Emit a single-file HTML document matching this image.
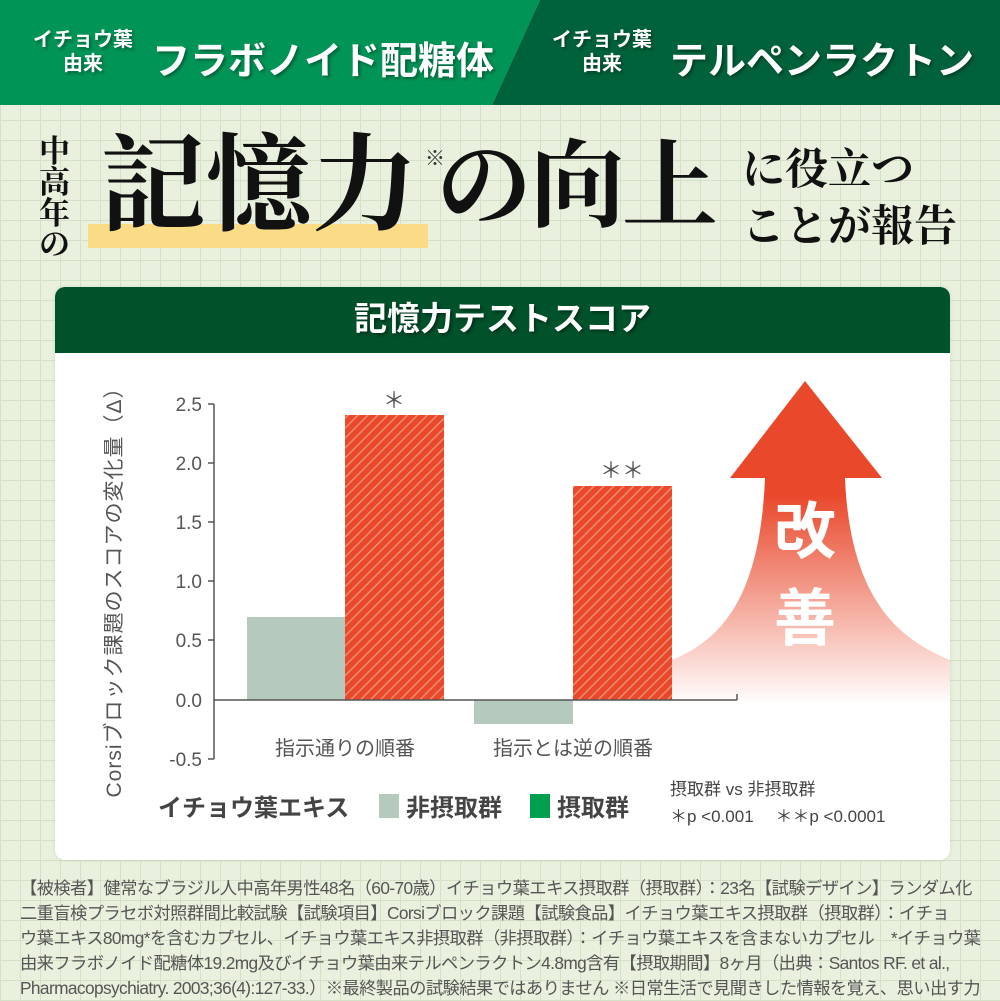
<!DOCTYPE html>
<html><head><meta charset="utf-8"><style>
*{margin:0;padding:0;box-sizing:border-box}
body{width:1000px;height:1000px;overflow:hidden;position:relative;font-family:"Liberation Sans","Noto Sans CJK JP",sans-serif;
background-color:#e9f1de;background-image:linear-gradient(#d3e2c6 1px,transparent 1px),linear-gradient(90deg,#d3e2c6 1px,transparent 1px);background-size:20px 20px;}
.abs{position:absolute;white-space:nowrap}
.ban{color:#fff;font-weight:bold;text-shadow:2px 2px 3px rgba(0,0,0,.35)}
.serif{font-family:"Liberation Serif","Noto Serif CJK SC",serif;font-weight:bold;color:#111}
.foot{font-size:17.3px;color:#555;letter-spacing:-0.6px;line-height:25px}
</style></head><body>
<svg class="abs" style="left:0;top:0" width="1000" height="105"><polygon points="0,0 540,0 492,105 0,105" fill="#009556"/><polygon points="540,0 1000,0 1000,105 492,105" fill="#00623a"/></svg>
<div class="abs ban" style="left:33px;top:28px;font-size:20px;line-height:24px;text-align:center">イチョウ葉<br>由来</div>
<div class="abs ban" style="left:152px;top:30px;font-size:38px">フラボノイド配糖体</div>
<div class="abs ban" style="left:552px;top:28px;font-size:20px;line-height:24px;text-align:center">イチョウ葉<br>由来</div>
<div class="abs ban" style="left:670px;top:30px;font-size:38px">テルペンラクトン</div>

<div class="abs serif" style="left:39px;top:136px;font-size:31px;line-height:31px;width:32px;white-space:normal">中高年の</div>
<div class="abs" style="left:88px;top:224px;width:340px;height:24px;background:#f9dc85"></div>
<div class="abs serif" style="left:100px;top:122px;font-size:106px;line-height:130px;letter-spacing:0px">記憶力</div>
<div class="abs" style="left:425px;top:142px;font-size:20px;color:#333">※</div>
<div class="abs serif" style="left:436px;top:122px;font-size:96px;line-height:130px;letter-spacing:-3px">の向上</div>
<div class="abs serif" style="left:742px;top:142px;font-size:43px;line-height:57px">に役立つ<br>ことが報告</div>

<div class="abs" style="left:55px;top:287px;width:895px;height:573px;background:#fff;border-radius:10px;overflow:hidden;box-shadow:0 0 4px rgba(0,0,0,.1)">
<div style="height:66px;background:#00522b;color:#fff;font-weight:bold;font-size:33px;text-align:center;line-height:64px;text-shadow:2px 2px 3px rgba(0,0,0,.4)">記憶力テストスコア</div>
</div>
<svg class="abs" style="left:0;top:0" width="1000" height="1000">
<defs>
<pattern id="h" width="7" height="7" patternUnits="userSpaceOnUse" patternTransform="rotate(45)"><rect width="7" height="7" fill="#e9482b"/><rect width="1.5" height="7" fill="#f08a70"/></pattern>
<linearGradient id="g" x1="0" y1="0" x2="0" y2="1"><stop offset="0.35" stop-color="#e9482b"/><stop offset="1" stop-color="#e9482b" stop-opacity="0"/></linearGradient>
</defs>
<path d="M805,381 L882,478 L845,478 C850,600 900,640 950,660 L950,705 L672,705 L672,660 C720,640 760,600 765,478 L730,478 Z" fill="url(#g)"/>
<text x="805" y="553" font-size="62" font-weight="bold" fill="#fff" text-anchor="middle" font-family="Liberation Sans,Noto Sans CJK JP,sans-serif">改</text>
<text x="805" y="640" font-size="62" font-weight="bold" fill="#fff" text-anchor="middle" font-family="Liberation Sans,Noto Sans CJK JP,sans-serif">善</text>
<rect x="247" y="617" width="98" height="83" fill="#b6c9bd"/>
<rect x="345" y="415" width="99" height="285" fill="url(#h)"/>
<rect x="474" y="700" width="99" height="24" fill="#b6c9bd"/>
<rect x="573" y="486" width="99" height="214" fill="url(#h)"/>
<g stroke="#555" stroke-width="1.5"><line x1="214" y1="404" x2="214" y2="759"/><line x1="214" y1="700" x2="737" y2="700"/><line x1="737" y1="694" x2="737" y2="700"/>
<line x1="208" y1="404" x2="214" y2="404"/><line x1="208" y1="463" x2="214" y2="463"/><line x1="208" y1="522" x2="214" y2="522"/><line x1="208" y1="581" x2="214" y2="581"/><line x1="208" y1="640" x2="214" y2="640"/><line x1="208" y1="759" x2="214" y2="759"/></g>
<g font-size="19" fill="#555" text-anchor="end" font-family="Liberation Sans,sans-serif">
<text x="202" y="411">2.5</text><text x="202" y="470">2.0</text><text x="202" y="529">1.5</text><text x="202" y="588">1.0</text><text x="202" y="647">0.5</text><text x="202" y="707">0.0</text><text x="202" y="766">-0.5</text></g>
<g font-size="20" fill="#555" text-anchor="middle" font-family="Liberation Sans,Noto Sans CJK JP,sans-serif">
<text x="345" y="755">指示通りの順番</text><text x="573" y="755">指示とは逆の順番</text>
<text x="394" y="408" font-size="22">＊</text><text x="622" y="478" font-size="22">＊＊</text></g>
<text transform="translate(121,587) rotate(-90)" font-size="21" fill="#555" text-anchor="middle" letter-spacing="1" font-family="Liberation Sans,Noto Sans CJK JP,sans-serif">Corsiブロック課題のスコアの変化量（Δ）</text>
<g font-family="Liberation Sans,Noto Sans CJK JP,sans-serif" fill="#444" font-weight="bold">
<text x="158" y="816" font-size="24">イチョウ葉エキス</text>
<rect x="379" y="794" width="20" height="24" fill="#b6c9bd"/><text x="406" y="816" font-size="24">非摂取群</text>
<rect x="530" y="794" width="20" height="24" fill="#00a050"/><text x="557" y="816" font-size="24">摂取群</text></g>
<g font-family="Liberation Sans,Noto Sans CJK JP,sans-serif" fill="#444" font-size="17">
<text x="670" y="795">摂取群 vs 非摂取群</text><text x="670" y="822">＊p &lt;0.001　 ＊＊p &lt;0.0001</text></g>
</svg>
<div class="abs foot" style="left:20px;top:876px">【被検者】健常なブラジル人中高年男性48名（60-70歳）イチョウ葉エキス摂取群（摂取群）：23名【試験デザイン】ランダム化<br>二重盲検プラセボ対照群間比較試験【試験項目】Corsiブロック課題【試験食品】イチョウ葉エキス摂取群（摂取群）：イチョ<br>ウ葉エキス80mg*を含むカプセル、イチョウ葉エキス非摂取群（非摂取群）：イチョウ葉エキスを含まないカプセル　*イチョウ葉<br>由来フラボノイド配糖体19.2mg及びイチョウ葉由来テルペンラクトン4.8mg含有【摂取期間】8ヶ月（出典：Santos RF. et al.,<br>Pharmacopsychiatry. 2003;36(4):127-33.）※最終製品の試験結果ではありません ※日常生活で見聞きした情報を覚え、思い出す力</div>
</body></html>
